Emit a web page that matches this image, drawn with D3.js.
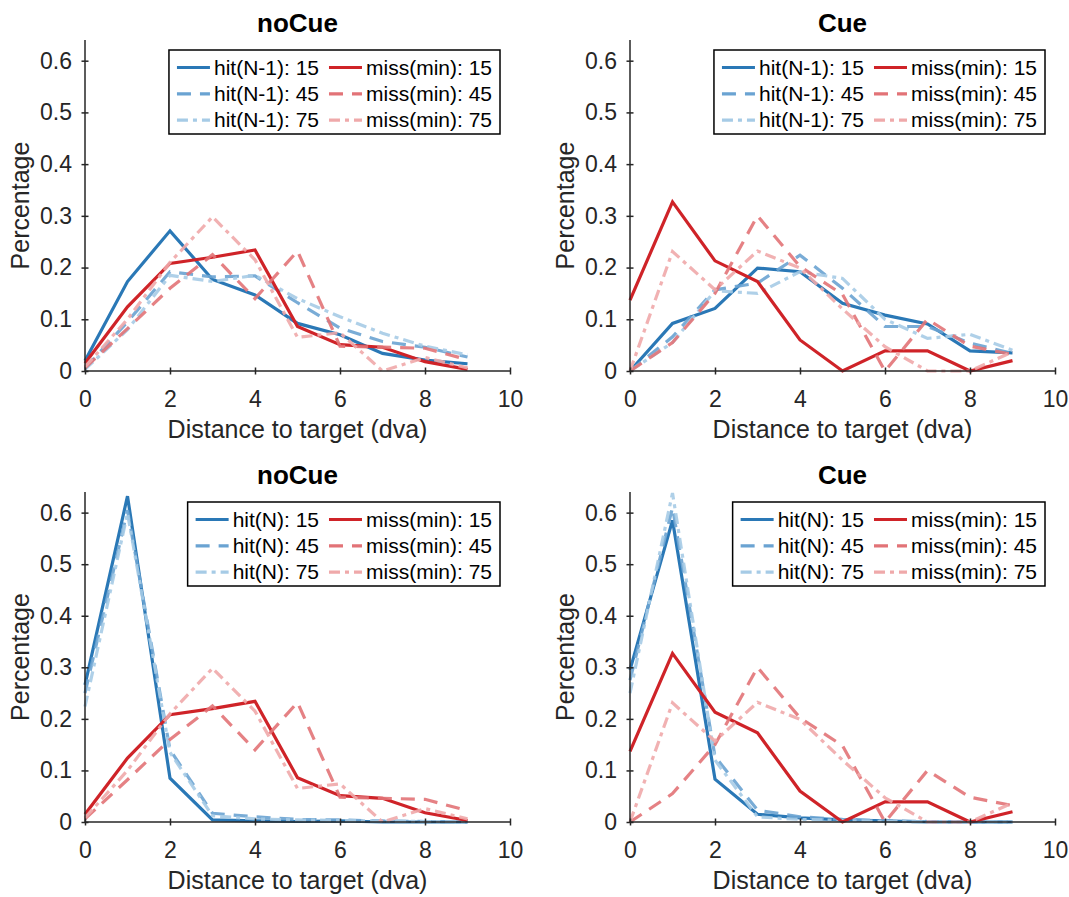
<!DOCTYPE html>
<html>
<head>
<meta charset="utf-8">
<script src="https://cdn.jsdelivr.net/npm/d3@7"></script>
<style>
  body { margin: 0; background: #fff; }
  text { font-family: "Liberation Sans", Helvetica, Arial, sans-serif; }
</style>
</head>
<body>
<div id="wrapper"></div>
<script>
// distance bins and ticks
const distances = [0, 1, 2, 3, 4, 5, 6, 7, 8, 9];
const xTicks = [0, 2, 4, 6, 8, 10];
const yTicks = [0, 0.1, 0.2, 0.3, 0.4, 0.5, 0.6];
const windows = [15, 45, 75];
const panelTitles = ["noCue", "Cue", "noCue", "Cue"];
const hitNames = ["hit(N-1)", "hit(N-1)", "hit(N)", "hit(N)"];
const missName = "miss(min)";

// top row: hit(N-1)
const hitPrevNoCue15 = [0.020, 0.173, 0.271, 0.177, 0.147, 0.092, 0.070, 0.034, 0.021, 0.014];
const hitPrevNoCue45 = [0.005, 0.095, 0.192, 0.182, 0.184, 0.132, 0.083, 0.057, 0.046, 0.027];
const hitPrevNoCue75 = [0.003, 0.080, 0.185, 0.173, 0.185, 0.140, 0.105, 0.073, 0.048, 0.031];
const hitPrevCue15 = [0.000, 0.092, 0.121, 0.199, 0.192, 0.131, 0.108, 0.091, 0.039, 0.035];
const hitPrevCue45 = [0.000, 0.066, 0.157, 0.170, 0.224, 0.160, 0.086, 0.086, 0.054, 0.034];
const hitPrevCue75 = [0.000, 0.055, 0.155, 0.150, 0.192, 0.179, 0.100, 0.063, 0.071, 0.040];

// bottom row: hit(N)
const hitNoCue15 = [0.266, 0.632, 0.085, 0.004, 0.002, 0.001, 0.002, 0.000, 0.000, 0.000];
const hitNoCue45 = [0.250, 0.605, 0.140, 0.017, 0.010, 0.005, 0.004, 0.002, 0.001, 0.000];
const hitNoCue75 = [0.224, 0.599, 0.135, 0.012, 0.006, 0.004, 0.003, 0.002, 0.001, 0.000];
const hitCue15 = [0.295, 0.585, 0.083, 0.015, 0.008, 0.004, 0.002, 0.000, 0.000, 0.000];
const hitCue45 = [0.275, 0.610, 0.127, 0.023, 0.010, 0.005, 0.002, 0.001, 0.000, 0.000];
const hitCue75 = [0.250, 0.638, 0.120, 0.010, 0.005, 0.003, 0.001, 0.000, 0.000, 0.000];

// miss(min), same in both rows
const missNoCue15 = [0.015, 0.124, 0.208, 0.220, 0.234, 0.086, 0.051, 0.046, 0.018, 0.003];
const missNoCue45 = [0.006, 0.082, 0.160, 0.225, 0.140, 0.232, 0.048, 0.046, 0.044, 0.022];
const missNoCue75 = [0.008, 0.100, 0.210, 0.298, 0.215, 0.065, 0.074, 0.000, 0.026, 0.006];
const missCue15 = [0.137, 0.327, 0.213, 0.173, 0.060, 0.000, 0.039, 0.039, 0.000, 0.020];
const missCue45 = [0.000, 0.055, 0.150, 0.300, 0.202, 0.148, 0.000, 0.100, 0.048, 0.032];
const missCue75 = [0.000, 0.231, 0.157, 0.232, 0.199, 0.120, 0.047, 0.000, 0.000, 0.037];

const panelHits = [
    [hitPrevNoCue15, hitPrevNoCue45, hitPrevNoCue75],
    [hitPrevCue15, hitPrevCue45, hitPrevCue75],
    [hitNoCue15, hitNoCue45, hitNoCue75],
    [hitCue15, hitCue45, hitCue75]
];
const panelMisses = [
    [missNoCue15, missNoCue45, missNoCue75],
    [missCue15, missCue45, missCue75],
    [missNoCue15, missNoCue45, missNoCue75],
    [missCue15, missCue45, missCue75]
];

const blues = ["#2a78b6", "#6aa3d2", "#a6cbe6"];
const reds = ["#cf2328", "#e27377", "#efa9aa"];
const dashes = [null, "14,9", "11,5,4,5"];
const axisColor = "#262626";

const width = 1069, height = 897;
const svg = d3.select("#wrapper").append("svg")
    .attr("width", width)
    .attr("height", height);

// axes boxes: left/right x, top/bottom y
const cols = [[85, 510], [630, 1055]];
const rows = [[40, 371], [492, 822]];

panelTitles.forEach((title, i) => {
    const [x0, x1] = cols[i % 2];
    const [y0, y1] = rows[Math.floor(i / 2)];

    const xScale = d3.scaleLinear().domain([0, 10]).range([x0, x1]);
    const yScale = d3.scaleLinear().domain([0, 0.64]).range([y1, y0]);

    const g = svg.append("g");

    const line = d3.line()
        .x((d, k) => xScale(distances[k]))
        .y(d => yScale(d));

    const addSeries = (arr, colors) => {
        arr.forEach((s, k) => {
            g.append("path")
                .datum(s)
                .attr("d", line)
                .attr("fill", "none")
                .attr("stroke", colors[k])
                .attr("stroke-width", 3.2)
                .attr("stroke-opacity", k == 0 ? 1 : 0.9)
                .attr("stroke-dasharray", dashes[k]);
        });
    };
    addSeries(panelHits[i], blues);
    addSeries(panelMisses[i], reds);

    // axes
    const xAxis = g.append("g")
        .attr("transform", `translate(0,${y1})`)
        .call(d3.axisBottom(xScale).tickValues(xTicks).tickSize(0).tickFormat(d3.format("d")));
    const yAxis = g.append("g")
        .attr("transform", `translate(${x0},0)`)
        .call(d3.axisLeft(yScale).tickValues(yTicks).tickSize(0).tickFormat(d => d == 0 ? "0" : d3.format(".1f")(d)));

    [xAxis, yAxis].forEach(ax => {
        ax.select(".domain").attr("stroke", axisColor).attr("stroke-width", 1.5);
        ax.selectAll("text").attr("fill", axisColor).attr("font-size", "23px")
            .style("font-family", "'Liberation Sans', Helvetica, Arial, sans-serif");
    });
    xAxis.select(".domain").attr("d", `M${x0},0H${x1}`);
    yAxis.select(".domain").attr("d", `M0,${y1}V${y0}`);
    xAxis.selectAll(".tick line").attr("y1", -3.5).attr("y2", 3.5)
        .attr("stroke", axisColor).attr("stroke-width", 1.5);
    yAxis.selectAll(".tick line").attr("x1", -3.5).attr("x2", 3.5)
        .attr("stroke", axisColor).attr("stroke-width", 1.5);
    xAxis.selectAll("text").attr("y", 20).attr("dy", "0.71em");
    yAxis.selectAll("text").attr("x", -13);

    // labels
    g.append("text")
        .attr("x", (x0 + x1) / 2)
        .attr("y", y0 - 8)
        .attr("text-anchor", "middle")
        .attr("font-size", "26px")
        .attr("font-weight", "bold")
        .attr("fill", "#000")
        .text(title);
    g.append("text")
        .attr("x", (x0 + x1) / 2)
        .attr("y", y1 + 67)
        .attr("text-anchor", "middle")
        .attr("font-size", "25px")
        .attr("fill", axisColor)
        .text("Distance to target (dva)");
    g.append("text")
        .attr("transform", `translate(${x0 - 56},${(y0 + y1) / 2}) rotate(-90)`)
        .attr("text-anchor", "middle")
        .attr("font-size", "25px")
        .attr("fill", axisColor)
        .text("Percentage");

    // legend
    const leg = g.append("g");
    const box = leg.append("rect")
        .attr("fill", "#fff")
        .attr("stroke", "#000")
        .attr("stroke-width", 1.5);
    const col1 = windows.map(w => `${hitNames[i]}: ${w}`);
    const col2 = windows.map(w => `${missName}: ${w}`);
    const t1 = col1.map(s => leg.append("text").attr("font-size", "21px").attr("fill", "#000").text(s));
    const t2 = col2.map(s => leg.append("text").attr("font-size", "21px").attr("fill", "#000").text(s));
    const w1 = d3.max(t1, t => t.node().getComputedTextLength());
    const w2 = d3.max(t2, t => t.node().getComputedTextLength());

    const pad = 8, lineLen = 33, lineGap = 4, colGap = 10;
    const boxRight = x1 - 10;
    const boxTop = y0 + 10;
    const text2X = boxRight - pad - w2;
    const line2X = text2X - lineGap - lineLen;
    const text1X = line2X - colGap - w1;
    const line1X = text1X - lineGap - lineLen;
    const boxLeft = line1X - pad;

    box.attr("x", boxLeft).attr("y", boxTop)
        .attr("width", boxRight - boxLeft).attr("height", 84);

    windows.forEach((w, k) => {
        const cy = boxTop + 17.5 + k * 26.3;
        t1[k].attr("x", text1X).attr("y", cy).attr("dy", "0.35em");
        t2[k].attr("x", text2X).attr("y", cy).attr("dy", "0.35em");
        leg.append("line")
            .attr("x1", line1X).attr("x2", line1X + lineLen)
            .attr("y1", cy).attr("y2", cy)
            .attr("stroke", blues[k]).attr("stroke-width", 3.2)
            .attr("stroke-dasharray", dashes[k]);
        leg.append("line")
            .attr("x1", line2X).attr("x2", line2X + lineLen)
            .attr("y1", cy).attr("y2", cy)
            .attr("stroke", reds[k]).attr("stroke-width", 3.2)
            .attr("stroke-dasharray", dashes[k]);
    });
});
</script>
</body>
</html>
